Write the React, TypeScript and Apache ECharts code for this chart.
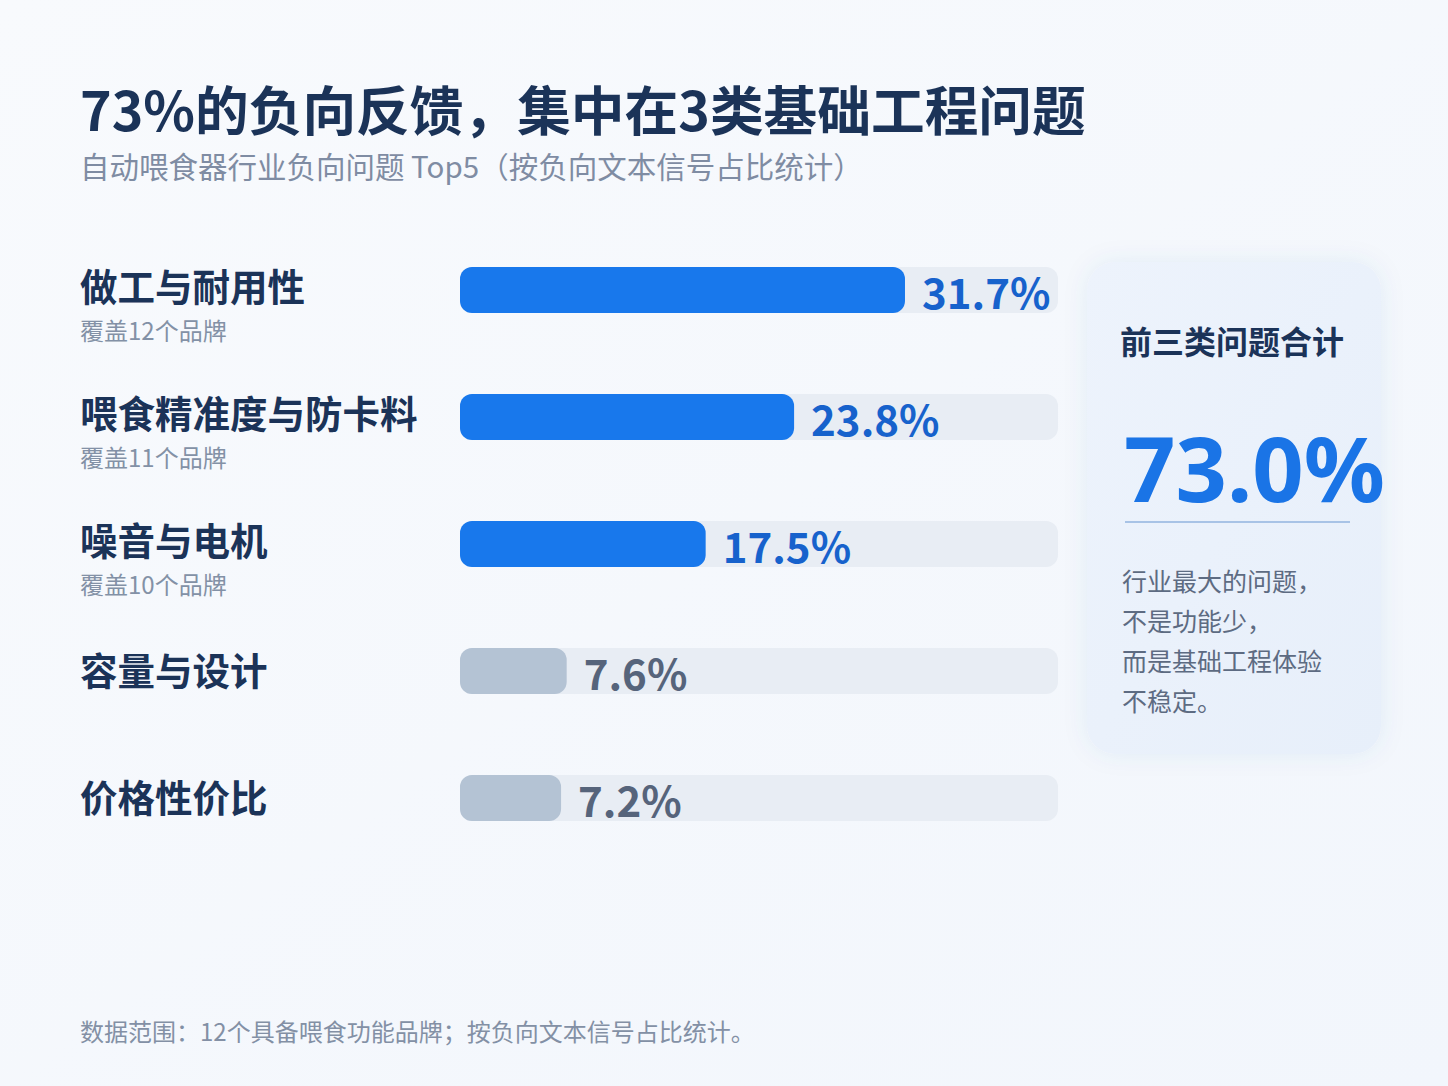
import React, { useEffect, useRef } from "react";
import * as echarts from "echarts";

const categories = ["做工与耐用性", "喂食精准度与防卡料", "噪音与电机", "容量与设计", "价格性价比"];
const brandNotes = ["覆盖12个品牌", "覆盖11个品牌", "覆盖10个品牌", "", ""];
const shares = [31.7, 23.8, 17.5, 7.6, 7.2];
const highlightCount = 3;
const axisMax = 42.6;

const titleText = "73%的负向反馈，集中在3类基础工程问题";
const subtitleText = "自动喂食器行业负向问题 Top5（按负向文本信号占比统计）";
const cardTitle = "前三类问题合计";
const cardValue = "73.0%";
const cardLines = ["行业最大的问题，", "不是功能少，", "而是基础工程体验", "不稳定。"];
const footerText = "数据范围：12个具备喂食功能品牌；按负向文本信号占比统计。";

const CJK = "'Noto Sans CJK SC', 'Noto Sans', sans-serif";
const DARK = "#1b3358";
const BLUE = "#1878ec";
const BLUE_TEXT = "#1762cc";
const GRAY_BAR = "#b4c3d4";
const GRAY_TEXT = "#56647b";

export default function App() {
  const ref = useRef<HTMLDivElement>(null);
  useEffect(() => {
    document.body.style.margin = "0";
    const chart = echarts.init(ref.current!, null, { renderer: "svg" });
    const data = shares.map((v, i) => ({
      value: v,
      itemStyle: { color: i < highlightCount ? BLUE : GRAY_BAR, borderRadius: 12 },
      label: { color: i < highlightCount ? BLUE_TEXT : GRAY_TEXT },
    }));
    const baseAxis = {
      type: "category",
      inverse: true,
      data: categories,
      position: "left",
      axisLine: { show: false },
      axisTick: { show: false },
      splitLine: { show: false },
    };
    const nameStyle = { fontSize: 37.5, fontWeight: "bold", color: DARK, fontFamily: CJK };
    chart.setOption({
      animation: false,
      backgroundColor: {
        type: "linear",
        x: 0,
        y: 0,
        x2: 1,
        y2: 1,
        colorStops: [
          { offset: 0, color: "#f8fafd" },
          { offset: 1, color: "#f2f6fc" },
        ],
      },
      grid: { left: 460, right: 390, top: 226.5, height: 635, containLabel: false },
      xAxis: { type: "value", min: 0, max: axisMax, show: false },
      yAxis: [
        {
          ...baseAxis,
          axisLabel: {
            align: "left",
            verticalAlign: "bottom",
            margin: 380,
            fontFamily: CJK,
            formatter: (v: string, idx: number) => (brandNotes[idx] ? `{hi|${v}}` : `{lo|${v}}`),
            rich: {
              hi: { ...nameStyle, lineHeight: 12 },
              lo: { ...nameStyle, lineHeight: 6 },
            },
          },
        },
        {
          ...baseAxis,
          axisLabel: {
            align: "left",
            verticalAlign: "top",
            margin: 380,
            fontFamily: CJK,
            fontSize: 24,
            color: "#8391a6",
            lineHeight: 78,
            formatter: (_v: string, idx: number) => brandNotes[idx] || "",
          },
        },
      ],
      series: [
        {
          type: "bar",
          data,
          barWidth: 46,
          showBackground: true,
          backgroundStyle: { color: "#e8edf4", borderRadius: 12 },
          label: {
            show: true,
            position: "right",
            distance: 17,
            fontFamily: CJK,
            fontSize: 42,
            fontWeight: "bold",
            formatter: (p: any) => `${p.value.toFixed(1)}%`,
          },
        },
      ],
      graphic: [
        {
          type: "text",
          left: 80,
          top: 81,
          style: { text: titleText, font: `bold 53.7px ${CJK}`, fill: DARK },
        },
        {
          type: "text",
          left: 80,
          top: 150,
          style: { text: subtitleText, font: `29.5px ${CJK}`, fill: "#7f8ca3" },
        },
        {
          type: "rect",
          shape: { x: 1087, y: 262, width: 294, height: 492, r: 28 },
          style: {
            fill: {
              type: "linear",
              x: 0,
              y: 0,
              x2: 1,
              y2: 1,
              colorStops: [
                { offset: 0, color: "#edf3fc" },
                { offset: 1, color: "#e7effa" },
              ],
            },
            shadowBlur: 24,
            shadowColor: "rgba(60,100,160,0.08)",
          },
        },
        {
          type: "text",
          x: 1120,
          y: 340,
          style: { text: cardTitle, font: `bold 32px ${CJK}`, fill: DARK, verticalAlign: "middle" },
        },
        {
          type: "text",
          x: 1124,
          y: 467,
          style: {
            text: cardValue,
            font: `bold 90px 'Noto Sans', sans-serif`,
            fill: "#1a74e6",
            verticalAlign: "middle",
          },
        },
        {
          type: "line",
          shape: { x1: 1125, y1: 522, x2: 1350, y2: 522 },
          style: { stroke: "#a8c3e6", lineWidth: 2 },
        },
        ...cardLines.map((t, i) => ({
          type: "text",
          x: 1122,
          y: 580 + i * 40,
          style: { text: t, font: `25px ${CJK}`, fill: "#5d6b82", verticalAlign: "middle" },
        })),
        {
          type: "text",
          x: 80,
          y: 1030,
          style: { text: footerText, font: `24px ${CJK}`, fill: "#8390a5", verticalAlign: "middle" },
        },
      ],
    });
    return () => chart.dispose();
  }, []);
  return <div ref={ref} style={{ width: 1448, height: 1086 }} />;
}
